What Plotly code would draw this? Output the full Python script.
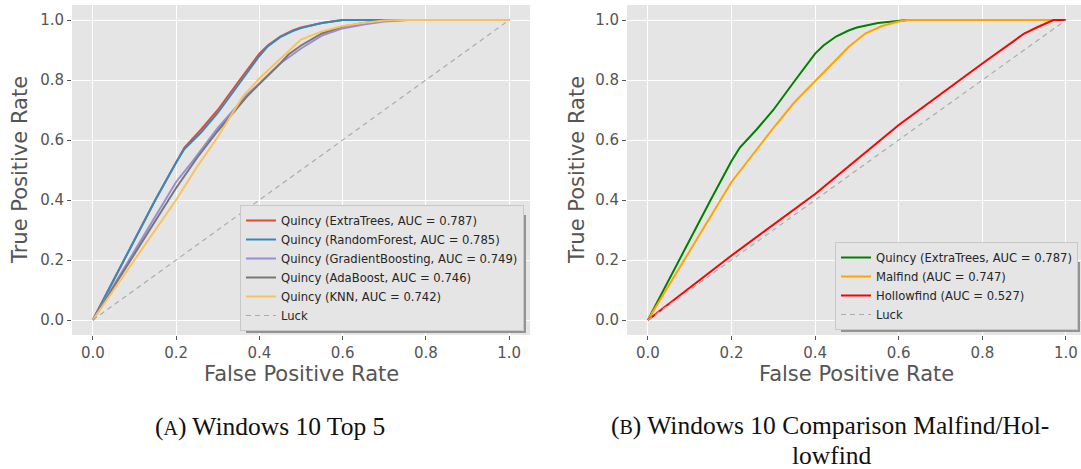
import plotly.graph_objects as go

W, H = 1081, 469

# ---------------- data (left: Windows 10 Top 5) ----------------
et_fpr = [0, 0.05, 0.1, 0.15, 0.2, 0.22, 0.26, 0.3, 0.35, 0.4, 0.42, 0.45, 0.48, 0.5, 0.55, 0.6, 0.7, 1.0]
et_tpr = [0, 0.135, 0.27, 0.40, 0.525, 0.575, 0.635, 0.70, 0.795, 0.888, 0.915, 0.945, 0.965, 0.975, 0.99, 1.0, 1.0, 1.0]
rf_fpr = [0, 0.05, 0.1, 0.15, 0.2, 0.22, 0.26, 0.3, 0.35, 0.4, 0.42, 0.45, 0.48, 0.5, 0.55, 0.6, 0.7, 1.0]
rf_tpr = [0, 0.135, 0.27, 0.40, 0.525, 0.57, 0.625, 0.69, 0.785, 0.88, 0.912, 0.943, 0.963, 0.973, 0.99, 1.0, 1.0, 1.0]
gb_fpr = [0, 0.1, 0.2, 0.24, 0.3, 0.37, 0.4, 0.45, 0.5, 0.55, 0.6, 0.65, 0.7, 0.76, 1.0]
gb_tpr = [0, 0.23, 0.46, 0.53, 0.64, 0.75, 0.79, 0.855, 0.905, 0.948, 0.972, 0.985, 0.995, 1.0, 1.0]
ada_fpr = [0, 0.1, 0.2, 0.25, 0.3, 0.37, 0.4, 0.45, 0.47, 0.5, 0.55, 0.6, 0.65, 0.7, 0.75, 1.0]
ada_tpr = [0, 0.22, 0.44, 0.54, 0.63, 0.745, 0.785, 0.855, 0.885, 0.915, 0.955, 0.978, 0.99, 0.998, 1.0, 1.0]
knn_fpr = [0, 0.1, 0.2, 0.25, 0.3, 0.36, 0.4, 0.45, 0.5, 0.55, 0.6, 0.65, 0.7, 0.75, 1.0]
knn_tpr = [0, 0.2, 0.40, 0.51, 0.61, 0.745, 0.805, 0.87, 0.935, 0.962, 0.98, 0.99, 0.998, 1.0, 1.0]

# ---------------- data (right: Comparison Malfind/Hollowfind) ----------------
q_fpr = [0, 0.05, 0.1, 0.15, 0.2, 0.22, 0.26, 0.3, 0.35, 0.4, 0.42, 0.45, 0.48, 0.5, 0.55, 0.6, 0.62, 1.0]
q_tpr = [0, 0.135, 0.27, 0.40, 0.53, 0.575, 0.635, 0.70, 0.795, 0.888, 0.915, 0.945, 0.965, 0.975, 0.99, 0.997, 1.0, 1.0]
mal_fpr = [0, 0.1, 0.2, 0.25, 0.3, 0.35, 0.4, 0.45, 0.48, 0.52, 0.56, 0.6, 0.62, 1.0]
mal_tpr = [0, 0.23, 0.46, 0.55, 0.64, 0.725, 0.795, 0.865, 0.91, 0.955, 0.98, 0.995, 1.0, 1.0]
hol_fpr = [0, 0.2, 0.4, 0.6, 0.8, 0.85, 0.9, 0.93, 0.97, 1.0]
hol_tpr = [0, 0.215, 0.42, 0.65, 0.855, 0.905, 0.955, 0.975, 1.0, 1.0]
luck = [0, 1]

left_names = ["Quincy (ExtraTrees, AUC = 0.787)", "Quincy (RandomForest, AUC = 0.785)",
              "Quincy (GradientBoosting, AUC = 0.749)", "Quincy (AdaBoost, AUC = 0.746)",
              "Quincy (KNN, AUC = 0.742)", "Luck"]
right_names = ["Quincy (ExtraTrees, AUC = 0.787)", "Malfind (AUC = 0.747)",
               "Hollowfind (AUC = 0.527)", "Luck"]
ticks = [0.0, 0.2, 0.4, 0.6, 0.8, 1.0]
tick_text = ["0.0", "0.2", "0.4", "0.6", "0.8", "1.0"]

def px(x):
    return x / W

def py(y):
    return 1 - y / H

fig = go.Figure()
left = [(et_fpr, et_tpr, "#E24A33"), (rf_fpr, rf_tpr, "#348ABD"), (gb_fpr, gb_tpr, "#988ED5"),
        (ada_fpr, ada_tpr, "#777777"), (knn_fpr, knn_tpr, "#FBC15E")]
for (fx, ty, c), n in zip(left, left_names[:5]):
    fig.add_trace(go.Scatter(x=fx, y=ty, mode="lines", name=n, line=dict(color=c, width=2),
                             xaxis="x", yaxis="y", legend="legend"))
fig.add_trace(go.Scatter(x=luck, y=luck, mode="lines", name=left_names[5],
                         line=dict(color="#ABABAB", width=1.2, dash="5px,4px"),
                         xaxis="x", yaxis="y", legend="legend"))

right = [(q_fpr, q_tpr, "#008000"), (mal_fpr, mal_tpr, "#FFA500"), (hol_fpr, hol_tpr, "#FF0000")]
for (fx, ty, c), n in zip(right, right_names[:3]):
    fig.add_trace(go.Scatter(x=fx, y=ty, mode="lines", name=n, line=dict(color=c, width=2),
                             xaxis="x2", yaxis="y2", legend="legend2"))
fig.add_trace(go.Scatter(x=luck, y=luck, mode="lines", name=right_names[3],
                         line=dict(color="#ABABAB", width=1.2, dash="5px,4px"),
                         xaxis="x2", yaxis="y2", legend="legend2"))

axis_common = dict(showgrid=True, gridcolor="white", gridwidth=1, zeroline=False,
                   ticks="outside", ticklen=4, tickcolor="#555555", tickwidth=1,
                   tickfont=dict(family="DejaVu Sans", size=15, color="#555555"),
                   tickvals=ticks, ticktext=tick_text, showline=False)

leg_common = dict(bgcolor="#E5E5E5", bordercolor="#C8C8C8", borderwidth=1,
                  font=dict(family="DejaVu Sans", size=11.6, color="#262626"),
                  itemwidth=30, tracegroupgap=0)

fig.update_layout(
    width=W, height=H, margin=dict(l=0, r=0, t=0, b=0),
    paper_bgcolor="white", plot_bgcolor="#E5E5E5",
    xaxis=dict(domain=[px(72), px(530)], range=[-0.05, 1.05], anchor="y", **axis_common),
    yaxis=dict(domain=[py(335), py(5)], range=[-0.05, 1.05], anchor="x", **axis_common),
    xaxis2=dict(domain=[px(627), 1.0], range=[-0.05, 1.036], anchor="y2", **axis_common),
    yaxis2=dict(domain=[py(335), py(5)], range=[-0.05, 1.05], anchor="x2", **axis_common),
    legend=dict(x=px(524), y=py(331), xanchor="right", yanchor="bottom", **leg_common),
    legend2=dict(x=px(1078), y=py(330), xanchor="right", yanchor="bottom", **leg_common),
    showlegend=True,
)

# legend drop shadows (matplotlib shadow=True look)
for x0, y0, x1, y1 in [(246, 215, 526, 333), (841, 262, 1080, 332)]:
    fig.add_shape(type="rect", xref="paper", yref="paper",
                  x0=px(x0), x1=px(x1), y0=py(y1), y1=py(y0),
                  fillcolor="#939393", line=dict(width=0), layer="above")

title_font = dict(family="DejaVu Sans", size=21, color="#555555")
cap_font = dict(family="Liberation Serif", size=25.5, color="#111111")
annots = [
    dict(x=px(301), y=py(374), text="False Positive Rate", font=title_font),
    dict(x=px(856), y=py(374), text="False Positive Rate", font=title_font),
    dict(x=px(20), y=py(170), text="True Positive Rate", font=title_font, textangle=-90),
    dict(x=px(577), y=py(170), text="True Positive Rate", font=title_font, textangle=-90),
    dict(x=px(270), y=py(426), text="(<span style='font-size:20px'>A</span>) Windows 10 Top 5", font=cap_font),
    dict(x=px(830), y=py(425), text="(<span style='font-size:20px'>B</span>) Windows 10 Comparison Malfind/Hol-", font=cap_font),
    dict(x=px(832), y=py(455), text="lowfind", font=cap_font),
]
for a in annots:
    fig.add_annotation(xref="paper", yref="paper", showarrow=False,
                       xanchor="center", yanchor="middle", **a)

fig.write_html("out.html")
